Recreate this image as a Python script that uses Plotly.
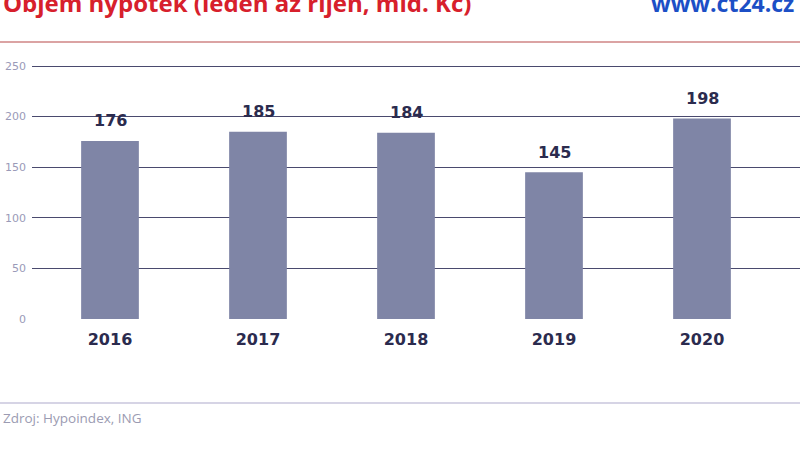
import plotly.graph_objects as go

years = ["2016", "2017", "2018", "2019", "2020"]
values = [176, 185, 184, 145, 198]
y_ticks = [0, 50, 100, 150, 200, 250]

W, H = 800, 449
top, bottom, left, right = 64, 319, 32, 800   # page pixels of plot area
ph = bottom - top
pw = right - left
unit = 253 / 250  # px per unit
ymax = ph / unit
slot = 148.0
xr0 = -0.5 - (110 - slot / 2 - left) / slot
xr1 = xr0 + pw / slot

def py(p):
    return (bottom - p) / ph

def px(p):
    return (p - left) / pw

fig = go.Figure(go.Bar(
    x=years, y=values,
    marker=dict(color="#7f85a6", line=dict(width=0)),
    width=0.39, hoverinfo="skip",
))

fig.update_layout(
    width=W, height=H,
    margin=dict(l=left, r=W - right, t=top, b=H - bottom, pad=0),
    plot_bgcolor="white", paper_bgcolor="white",
    showlegend=False,
    font=dict(family="DejaVu Sans"),
    xaxis=dict(
        type="category", range=[xr0, xr1], showgrid=False, zeroline=False,
        showline=False, ticks="", ticklabelstandoff=9,
        tickfont=dict(family="DejaVu Sans", size=16, color="#2b2b4e", weight="bold"),
    ),
    yaxis=dict(
        range=[0, ymax], tickvals=y_ticks, showgrid=True, gridcolor="#4a4a6e",
        gridwidth=1, zeroline=False, showline=False, ticks="", ticklabelstandoff=5,
        tickfont=dict(family="DejaVu Sans", size=11, color="#9a9ab8"),
    ),
)

fig.add_shape(type="line", xref="paper", yref="paper", x0=px(0), x1=px(W),
              y0=py(42), y1=py(42), line=dict(color="#dba3a3", width=2))
fig.add_shape(type="line", xref="paper", yref="paper", x0=px(0), x1=px(W),
              y0=py(403), y1=py(403), line=dict(color="#c9c6dc", width=1.5))

for i, v in enumerate(values):
    fig.add_annotation(
        x=i, y=v, xref="x", yref="y", text=str(v), showarrow=False,
        xanchor="center", yanchor="middle", yshift=20,
        font=dict(family="DejaVu Sans", size=16, color="#2b2b4e", weight="bold"),
    )

fig.add_annotation(text="Objem hypoték (leden až říjen, mld. Kč)", xref="paper", yref="paper",
                   x=px(1), y=py(21), xanchor="left", yanchor="bottom", showarrow=False,
                   font=dict(family="Open Sans", size=24, color="#d7202c", weight="bold"))
fig.add_annotation(text="www.ct24.cz", xref="paper", yref="paper",
                   x=px(796), y=py(21), xanchor="right", yanchor="bottom", showarrow=False,
                   font=dict(family="Open Sans", size=23, color="#1c4fc6", weight="bold"))
fig.add_annotation(text="Zdroj: Hypoindex, ING", xref="paper", yref="paper",
                   x=px(1), y=py(418), xanchor="left", yanchor="middle", showarrow=False,
                   font=dict(family="Open Sans", size=13.5, color="#9b9bb2"))

fig.write_html("out.html", config={"displayModeBar": False},
               post_script="document.body.style.margin='0px';")
